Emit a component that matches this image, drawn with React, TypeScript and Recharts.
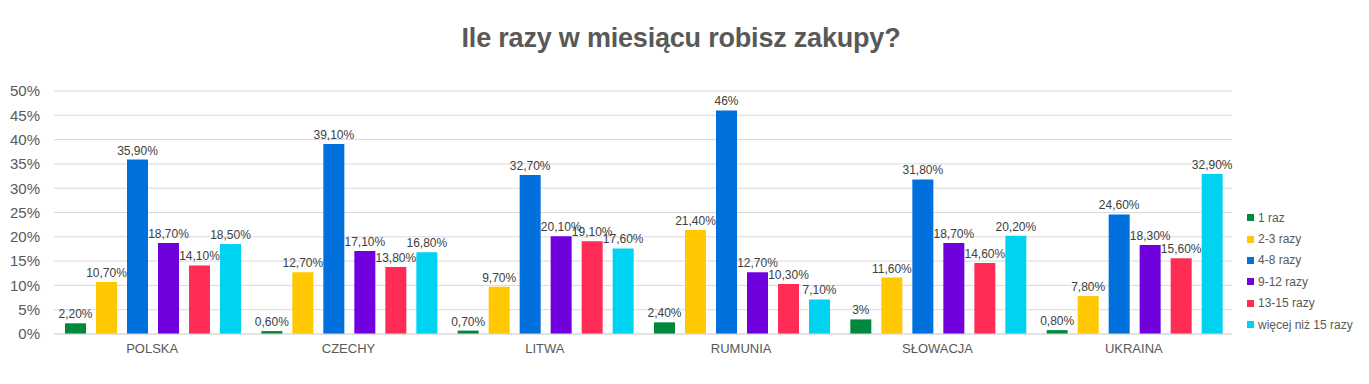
import { BarChart, Bar, XAxis, YAxis, CartesianGrid, LabelList } from "recharts";

const countries = ["POLSKA", "CZECHY", "LITWA", "RUMUNIA", "SŁOWACJA", "UKRAINA"];

const seriesNames = ["1 raz", "2-3 razy", "4-8 razy", "9-12 razy", "13-15 razy", "więcej niż 15 razy"];

const razy1 = [2.2, 0.6, 0.7, 2.4, 3, 0.8];
const razy2_3 = [10.7, 12.7, 9.7, 21.4, 11.6, 7.8];
const razy4_8 = [35.9, 39.1, 32.7, 46, 31.8, 24.6];
const razy9_12 = [18.7, 17.1, 20.1, 12.7, 18.7, 18.3];
const razy13_15 = [14.1, 13.8, 19.1, 10.3, 14.6, 15.6];
const wiecej15 = [18.5, 16.8, 17.6, 7.1, 20.2, 32.9];

const yTicks = [0, 5, 10, 15, 20, 25, 30, 35, 40, 45, 50];

const COLORS = ["#00883f", "#ffc800", "#0070dd", "#7000dd", "#ff2d55", "#00d2f2"];
const KEYS = ["s0", "s1", "s2", "s3", "s4", "s5"];

const allSeries = [razy1, razy2_3, razy4_8, razy9_12, razy13_15, wiecej15];

const data = countries.map((c, i) => {
  const row: any = { name: c };
  allSeries.forEach((s, k) => {
    row[KEYS[k]] = s[i];
  });
  return row;
});

function fmtLabel(v: any) {
  const n = Number(v);
  if (Number.isInteger(n)) return `${n}%`;
  return `${n.toFixed(2).replace(".", ",")}%`;
}

const FONT = "'Liberation Sans', Arial, sans-serif";

function LegendBox() {
  return (
    <div style={{ position: "absolute", left: 1247, top: 207, fontFamily: FONT, fontSize: 12, color: "#595959" }}>
      {seriesNames.map((n, i) => (
        <div key={n} style={{ display: "flex", alignItems: "center", height: 21.4, whiteSpace: "nowrap" }}>
          <span style={{ width: 7, height: 7, background: COLORS[i], marginRight: 4, display: "inline-block" }} />
          {n}
        </div>
      ))}
    </div>
  );
}

export default function App() {
  return (
    <div style={{ position: "absolute", left: 0, top: 0, width: 1369, height: 384, background: "#fff" }}>
      <div
        style={{
          position: "absolute",
          left: 0,
          top: 23,
          width: 1362,
          textAlign: "center",
          fontFamily: FONT,
          fontWeight: "bold",
          fontSize: 27,
          color: "#595959",
          letterSpacing: -0.2,
        }}
      >
        Ile razy w miesiącu robisz zakupy?
      </div>
      <BarChart
        width={1369}
        height={384}
        data={data}
        margin={{ top: 91, right: 137, bottom: 20, left: 0 }}
        barCategoryGap={11}
        barGap={10}
        style={{ fontFamily: FONT }}
      >
        <CartesianGrid vertical={false} stroke="#d9d9d9" />
        <XAxis
          dataKey="name"
          height={30}
          tickLine={false}
          axisLine={{ stroke: "#d9d9d9" }}
          tick={{ fontSize: 13, fill: "#595959" }}
          tickMargin={4}
        />
        <YAxis
          width={54}
          domain={[0, 50]}
          ticks={yTicks}
          interval={0}
          tickLine={false}
          axisLine={false}
          tickMargin={8}
          tick={{ fontSize: 15, fill: "#595959" }}
          tickFormatter={(v) => `${v}%`}
        />
        {KEYS.map((k, i) => (
          <Bar key={k} dataKey={k} name={seriesNames[i]} fill={COLORS[i]} isAnimationActive={false}>
            <LabelList
              dataKey={k}
              position="top"
              offset={5}
              formatter={fmtLabel}
              style={{ fontSize: 12, fill: "#404040" }}
            />
          </Bar>
        ))}
      </BarChart>
      <LegendBox />
    </div>
  );
}
